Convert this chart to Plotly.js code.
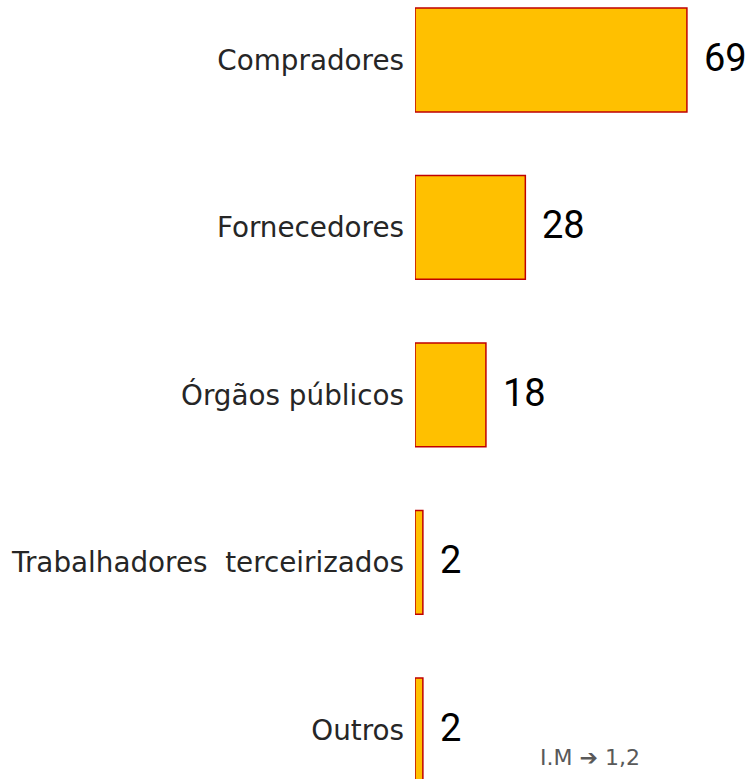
<!DOCTYPE html>
<html>
<head>
<meta charset="utf-8">
<script src="https://cdn.plot.ly/plotly-3.0.1.min.js"></script>
<style>
html,body{margin:0;padding:0;background:#fff;}
#chart{width:748px;height:779px;}
</style>
</head>
<body>
<div id="chart"></div>
<script>
const categories = ['Compradores', 'Fornecedores', 'Órgãos públicos', 'Trabalhadores\u00a0 terceirizados', 'Outros'];
const values = [69, 28, 18, 2, 2];
const noteText = 'I.M <b>➔</b> 1,2';

const trace = {
  type: 'bar',
  orientation: 'h',
  y: categories,
  x: values,
  marker: {color: '#FFC000', line: {color: '#C00000', width: 1.5}},
  hoverinfo: 'none'
};

const annotations = values.map((v, i) => ({
  x: v, y: categories[i], xref: 'x', yref: 'y',
  text: String(v), showarrow: false,
  xanchor: 'left', yanchor: 'middle', xshift: 15, yshift: 2,
  font: {family: 'Roboto, "Noto Sans", sans-serif', size: 38, color: '#000000'}
}));
annotations.push({
  xref: 'paper', yref: 'paper', x: 0.527, y: 0.027,
  xanchor: 'center', yanchor: 'middle',
  text: noteText, showarrow: false,
  font: {family: '"DejaVu Sans", sans-serif', size: 22, color: '#595959'}
});

const layout = {
  width: 748, height: 779,
  margin: {l: 415, r: 0, t: 0, b: 0, pad: 0},
  paper_bgcolor: '#ffffff', plot_bgcolor: '#ffffff',
  showlegend: false,
  bargap: 0.38,
  xaxis: {range: [0, 84.5], visible: false, fixedrange: true},
  yaxis: {
    type: 'category', autorange: false, range: [4.293, -0.358],
    showgrid: false, zeroline: false, showline: false, ticks: '',
    ticklabelstandoff: 10,
    tickfont: {family: '"DejaVu Sans", Verdana, sans-serif', size: 27.8, color: '#262626'},
    fixedrange: true
  },
  annotations: annotations
};

Plotly.newPlot('chart', [trace], layout, {displayModeBar: false, staticPlot: true});
</script>
</body>
</html>
